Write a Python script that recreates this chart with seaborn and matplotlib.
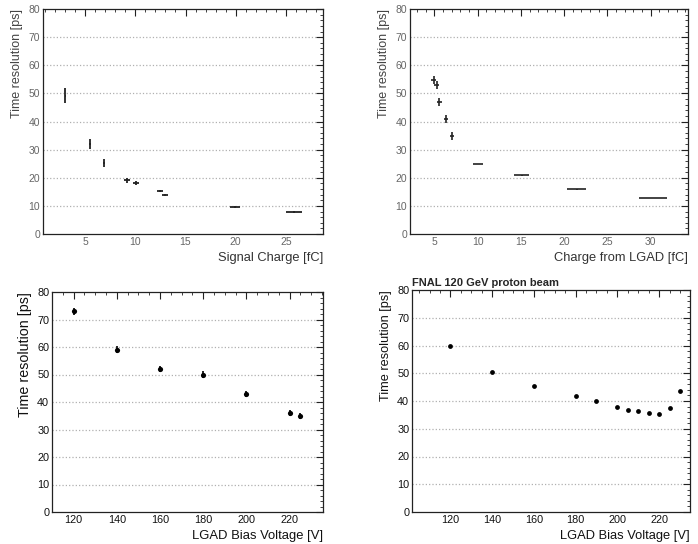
import matplotlib
matplotlib.use("Agg")
import matplotlib.pyplot as plt
from matplotlib.ticker import MultipleLocator
import seaborn as sns
import pandas as pd

# ---------------- data ----------------
# Panel 1: Signal Charge
p1_charge = [3.0, 5.5, 6.9, 9.2, 10.05, 12.5, 13.0, 19.95, 25.8]
p1_res = [49.2, 32.1, 25.2, 19.1, 18.1, 15.2, 14.0, 9.6, 7.9]
p1_res_err = [2.8, 1.8, 1.3, 0.8, 0.8, 0.4, 0.4, 0.3, 0.3]
p1_charge_err = [0.05, 0.1, 0.1, 0.3, 0.3, 0.3, 0.3, 0.5, 0.8]

# Panel 2: Charge from LGAD
p2_charge = [4.92, 5.27, 5.58, 6.35, 7.04, 10.0, 15.08, 21.46, 30.27]
p2_res = [54.9, 52.9, 46.9, 40.9, 35.0, 24.9, 20.9, 15.9, 12.8]
p2_res_err = [1.4, 1.4, 1.4, 1.4, 1.4, 0.1, 0.1, 0.1, 0.1]
p2_charge_err = [0.27, 0.27, 0.27, 0.27, 0.27, 0.58, 0.87, 1.1, 1.63]

# Panel 3: LGAD Bias Voltage
p3_bias = [120, 140, 160, 180, 200, 220, 225]
p3_res = [73, 59, 52, 50, 43, 36, 35]
p3_res_err = [1.2, 1.2, 1.1, 1.1, 1.1, 1.0, 1.0]

# Panel 4: FNAL 120 GeV proton beam
p4_bias = [120, 140, 160, 180, 190, 200, 205, 210, 215, 220, 225, 230]
p4_res = [60.0, 50.3, 45.3, 41.7, 40.0, 37.7, 36.8, 36.3, 35.7, 35.4, 37.3, 43.5]

ylabel_text = "Time resolution [ps]"
xlabels = ["Signal Charge [fC]", "Charge from LGAD [fC]",
           "LGAD Bias Voltage [V]", "LGAD Bias Voltage [V]"]
title4 = "FNAL 120 GeV proton beam"

# ---------------- style ----------------
sns.set_theme(style="white")
plt.rcParams['font.family'] = ['Liberation Sans', 'DejaVu Sans']

fig = plt.figure(figsize=(6.98, 5.44), dpi=100)
W, H = 698, 544


def add_ax(l, r, t, b):
    return fig.add_axes([l / W, 1 - b / H, (r - l) / W, (b - t) / H])


ax1 = add_ax(43, 323, 9, 234)
ax2 = add_ax(410, 688, 9, 234)
ax3 = add_ax(52, 323, 292, 512)
ax4 = add_ax(412, 690, 290, 512)


def style_ax(ax, xlim, xmaj, xmin, tick_color, tick_size):
    ax.set_xlim(*xlim)
    ax.set_ylim(0, 80)
    ax.xaxis.set_major_locator(MultipleLocator(xmaj))
    ax.xaxis.set_minor_locator(MultipleLocator(xmin))
    ax.yaxis.set_major_locator(MultipleLocator(10))
    ax.yaxis.set_minor_locator(MultipleLocator(2))
    ax.tick_params(which='both', direction='in', top=True, right=True,
                   colors='#222222', labelcolor=tick_color, labelsize=tick_size)
    ax.tick_params(which='major', length=5, width=0.8, pad=2)
    ax.tick_params(which='minor', length=2.5, width=0.6)
    for s in ax.spines.values():
        s.set_color('#222222')
        s.set_linewidth(0.9)
    for yv in range(10, 80, 10):
        ax.axhline(yv, color='#b0b0b0', linestyle=':', linewidth=0.9, zorder=0)


# Panel 1
style_ax(ax1, (0.8, 28.7), 5, 1, '#666666', 7.5)
ax1.errorbar(p1_charge, p1_res, yerr=p1_res_err, xerr=p1_charge_err,
             fmt='none', ecolor='#222222', elinewidth=1.3, capsize=0)
ax1.set_xlabel(xlabels[0], fontsize=9.3, color='#333333', loc='right')
ax1.set_ylabel(ylabel_text, fontsize=9, color='#444444', loc='top')

# Panel 2
style_ax(ax2, (2.2, 34.3), 5, 1, '#666666', 7.5)
ax2.errorbar(p2_charge, p2_res, yerr=p2_res_err, xerr=p2_charge_err,
             fmt='none', ecolor='#222222', elinewidth=1.2, capsize=0)
ax2.set_xlabel(xlabels[1], fontsize=9.3, color='#333333', loc='right')
ax2.set_ylabel(ylabel_text, fontsize=9, color='#444444', loc='top')

# Panel 3
style_ax(ax3, (110, 235.5), 20, 5, '#111111', 7.8)
df3 = pd.DataFrame({"bias": p3_bias, "res": p3_res})
ax3.errorbar(p3_bias, p3_res, yerr=p3_res_err, fmt='none',
             ecolor='black', elinewidth=1.2, capsize=0)
sns.scatterplot(data=df3, x="bias", y="res", ax=ax3, marker='o', s=14,
                color='black', edgecolor='black', linewidth=0, zorder=3)
ax3.set_xlabel(xlabels[2], fontsize=9.4, color='#111111', loc='right')
ax3.set_ylabel(ylabel_text, fontsize=10.3, color='#111111', loc='top')

# Panel 4
style_ax(ax4, (101.6, 234.8), 20, 5, '#111111', 7.8)
df4 = pd.DataFrame({"bias": p4_bias, "res": p4_res})
sns.scatterplot(data=df4, x="bias", y="res", ax=ax4, marker='o', s=12,
                color='black', edgecolor='black', linewidth=0, zorder=3)
ax4.set_xlabel(xlabels[3], fontsize=9.3, color='#111111', loc='right')
ax4.set_ylabel(ylabel_text, fontsize=9.2, color='#111111', loc='top')
ax4.set_title(title4, fontsize=8, fontweight='bold', loc='left', pad=3)

fig.savefig("out.png", dpi=100)
